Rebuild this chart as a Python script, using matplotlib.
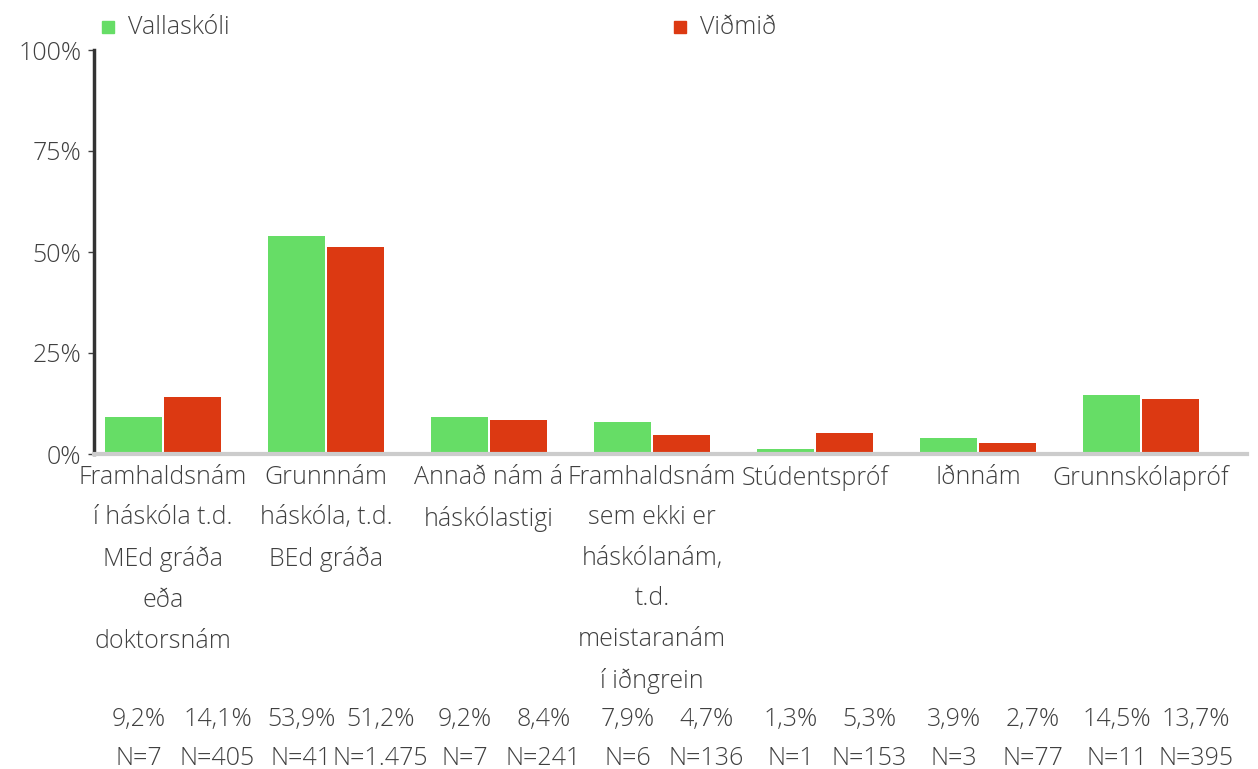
import numpy as np
import matplotlib.pyplot as plt

plt.rcParams['font.family'] = ['Open Sans', 'DejaVu Sans']
plt.rcParams['font.weight'] = 'light'

categories = [
    "Framhaldsnám\ní háskóla t.d.\nMEd gráða\neða\ndoktorsnám",
    "Grunnnám\nháskóla, t.d.\nBEd gráða",
    "Annað nám á\nháskólastigi",
    "Framhaldsnám\nsem ekki er\nháskólanám,\nt.d.\nmeistaranám\ní iðngrein",
    "Stúdentspróf",
    "Iðnnám",
    "Grunnskólapróf",
]
series_names = ["Vallaskóli", "Viðmið"]
school = [9.2, 53.9, 9.2, 7.9, 1.3, 3.9, 14.5]
norm = [14.1, 51.2, 8.4, 4.7, 5.3, 2.7, 13.7]
school_n = [7, 41, 7, 6, 1, 3, 11]
norm_n = [405, 1475, 241, 136, 153, 77, 395]

green = '#66dd66'
red = '#dc3912'
txt = '#404040'
fs = 18

fig = plt.figure(figsize=(12.58, 7.69), dpi=100)
ax = fig.add_axes([94/1258, 1-454/769, (1247-94)/1258, 404/769])

x = np.arange(len(categories))
off = 0.181
w = 0.35
ax.bar(x - off, school, w, color=green, zorder=2)
ax.bar(x + off, norm, w, color=red, zorder=2)

ax.set_ylim(0, 100)
ax.set_xlim(-0.423, 6.65)
ax.set_yticks([0, 25, 50, 75, 100])
ax.set_yticklabels(['0%', '25%', '50%', '75%', '100%'])
ax.tick_params(axis='y', length=4, width=1, color=txt, labelcolor=txt, labelsize=fs, pad=5)
ax.set_xticks([])
for s in ['top', 'right']:
    ax.spines[s].set_visible(False)
ax.spines['left'].set_color('#333333')
ax.spines['left'].set_linewidth(2.5)
ax.spines['bottom'].set_color('#cccccc')
ax.spines['bottom'].set_linewidth(3)
ax.spines['bottom'].set_zorder(3)

tr = ax.get_xaxis_transform()
for i, c in enumerate(categories):
    ax.text(i, -0.026, c, transform=tr, ha='center', va='top', fontsize=fs,
            color=txt, linespacing=1.82)

def fmt_pct(v):
    return f"{v:.1f}".replace('.', ',') + '%'

def fmt_n(n):
    return 'N=' + f"{n:,}".replace(',', '.')

# the value table below the chart sits in evenly spaced columns
for i in range(len(categories)):
    for dx, v, n in [(-0.15, school[i], school_n[i]), (0.335, norm[i], norm_n[i])]:
        ax.text(i + dx, -0.658, fmt_pct(v), transform=tr, ha='center', va='center',
                fontsize=fs, color=txt)
        ax.text(i + dx, -0.753, fmt_n(n), transform=tr, ha='center', va='center',
                fontsize=fs, color=txt)

# legend
for px, name, col in [(102, series_names[0], green), (674, series_names[1], red)]:
    fig.patches.append(plt.Rectangle((px/1258, 1-33/769), 12/1258, 12/769,
                                     transform=fig.transFigure, color=col))
    fig.text((px + 26)/1258, 1-27/769, name, ha='left', va='center',
             fontsize=fs, color=txt)

fig.savefig('out.png', dpi=100)
